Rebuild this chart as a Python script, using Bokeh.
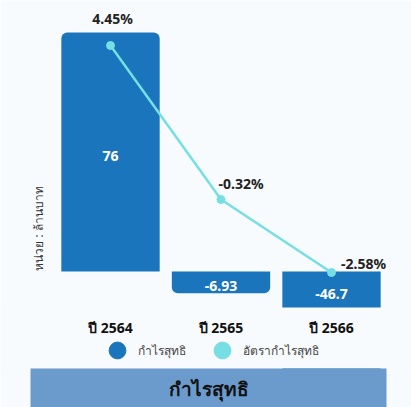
from math import pi

from bokeh.plotting import figure
from bokeh.models import (ColumnDataSource, Range1d, Legend, LegendItem,
                          Label, LabelSet, BoxAnnotation)
from bokeh.embed import file_html
from bokeh.resources import INLINE
from bokeh.core.properties import value

# ---------------- data ----------------
years = ["ปี 2564", "ปี 2565", "ปี 2566"]
net_profit = [76, -6.93, -46.7]            # ล้านบาท
net_margin = [4.45, -0.32, -2.58]          # %
profit_labels = ["76", "-6.93", "-46.7"]
margin_labels = ["4.45%", "-0.32%", "-2.58%"]
y_axis_title = "หน่วย : ล้านบาท"
legend_labels = ["กำไรสุทธิ", "อัตรากำไรสุทธิ"]
banner_title = "กำไรสุทธิ"

# ---------------- style ----------------
FONT = "Noto Sans"
BAR_COLOR = "#1b75bc"
LINE_COLOR = "#76dfe3"
BG = "#f8fbfe"
BANNER = "#6b9bcc"

W, H = 411, 407
X0, X1 = -0.9955, 2.724          # category index range over the canvas
BAR_MIN, BAR_MAX = -43.24, 86.17  # bar scale over the canvas
PCT_MIN, PCT_MAX = -6.761, 5.844  # margin scale over the canvas
BAR_VISIBLE_MIN = -11.45          # bottom edge of the bar area
NAN = float("nan")

idx = list(range(len(years)))

p = figure(x_range=Range1d(X0, X1), y_range=Range1d(BAR_MIN, BAR_MAX),
           width=W, height=H, output_backend="svg", toolbar_location=None,
           min_border=0, background_fill_color=BG, border_fill_color=BG)
p.extra_y_ranges = {"pct": Range1d(PCT_MIN, PCT_MAX)}
p.outline_line_color = None
p.grid.visible = False
p.axis.visible = False

# bars (positive: rounded top, negative: rounded bottom)
pos_idx = [i for i, v in enumerate(net_profit) if v >= 0]
neg_idx = [i for i, v in enumerate(net_profit) if v < 0]
src_pos = ColumnDataSource(dict(x=pos_idx, top=[net_profit[i] for i in pos_idx]))
src_neg = ColumnDataSource(dict(x=neg_idx, top=[net_profit[i] for i in neg_idx]))
p.vbar(x="x", top="top", bottom=0, width=0.89, source=src_pos,
       fill_color=BAR_COLOR, line_color=None, border_radius=(6, 6, 0, 0))
p.vbar(x="x", top="top", bottom=0, width=0.89, source=src_neg,
       fill_color=BAR_COLOR, line_color=None, border_radius=(0, 0, 6, 6))

# bar value labels (centre of visible part of the bar)
bar_lbl = ColumnDataSource(dict(x=idx,
                                y=[max(v, BAR_VISIBLE_MIN) / 2 for v in net_profit],
                                t=profit_labels))
p.text(x="x", y="y", text="t", source=bar_lbl, text_align="center",
       text_baseline="middle", y_offset=4, text_color="white",
       text_font=value(FONT), text_font_size="14px", text_font_style="bold")

# margin line
line_src = ColumnDataSource(dict(x=idx, y=net_margin, t=margin_labels,
                                 dx=[2, 20, 32], dy=[-27, -16, -9]))
p.line(x="x", y="y", source=line_src, y_range_name="pct",
       line_color=LINE_COLOR, line_width=2.5)
p.scatter(x="x", y="y", source=line_src, y_range_name="pct", marker="circle",
          size=8, fill_color=LINE_COLOR, line_color=LINE_COLOR)
p.text(x="x", y="y", text="t", source=line_src, y_range_name="pct",
       x_offset="dx", y_offset="dy", text_align="center",
       text_baseline="middle", text_color="#222222", text_font=value(FONT),
       text_font_size="14px", text_font_style="bold")

# area below the bars (keeps the long negative bar inside the chart area)
p.add_layout(BoxAnnotation(top=H - 307, bottom=H - 368, top_units="screen",
                           bottom_units="screen", fill_color=BG, fill_alpha=1,
                           line_color=None))
# banner
p.add_layout(BoxAnnotation(left=30, right=386, top=H - 368, left_units="screen",
                           right_units="screen", top_units="screen",
                           fill_color=BANNER, fill_alpha=1, line_color=None))
p.add_layout(Label(x=208, y=H - 388, x_units="screen", y_units="screen",
                   text=banner_title, text_align="center",
                   text_baseline="middle", text_font=FONT,
                   text_font_size="19px", text_font_style="bold",
                   text_color="#111111"))

# category labels
cat_src = ColumnDataSource(dict(x=idx, t=years))
p.add_layout(LabelSet(x="x", y=H - 327, y_units="screen", text="t",
                      source=cat_src, text_align="center",
                      text_baseline="middle", text_font=value(FONT),
                      text_font_size="14px", text_font_style="bold",
                      text_color="#111111"))

# y-axis title
p.add_layout(Label(x=38, y=H - 228, x_units="screen", y_units="screen",
                   text=y_axis_title, angle=pi / 2, text_align="center",
                   text_baseline="middle", text_font=FONT,
                   text_font_size="12px", text_color="#333333"))

# legend (circle swatches; legend-only renderers)
r1 = p.scatter(x=[NAN], y=[NAN], marker="circle", fill_color=BAR_COLOR,
               line_color=BAR_COLOR)
r2 = p.scatter(x=[NAN], y=[NAN], marker="circle", fill_color=LINE_COLOR,
               line_color=LINE_COLOR)
legend = Legend(items=[LegendItem(label=legend_labels[0], renderers=[r1]),
                       LegendItem(label=legend_labels[1], renderers=[r2])],
                orientation="horizontal", location=(96, 36),
                glyph_width=42, glyph_height=42, label_standoff=0,
                spacing=15, padding=0, margin=0, border_line_color=None,
                background_fill_alpha=0, label_text_font=FONT,
                label_text_font_size="12px", label_text_color="#444444")
p.add_layout(legend)

open("out.html", "w").write(file_html(p, INLINE))
